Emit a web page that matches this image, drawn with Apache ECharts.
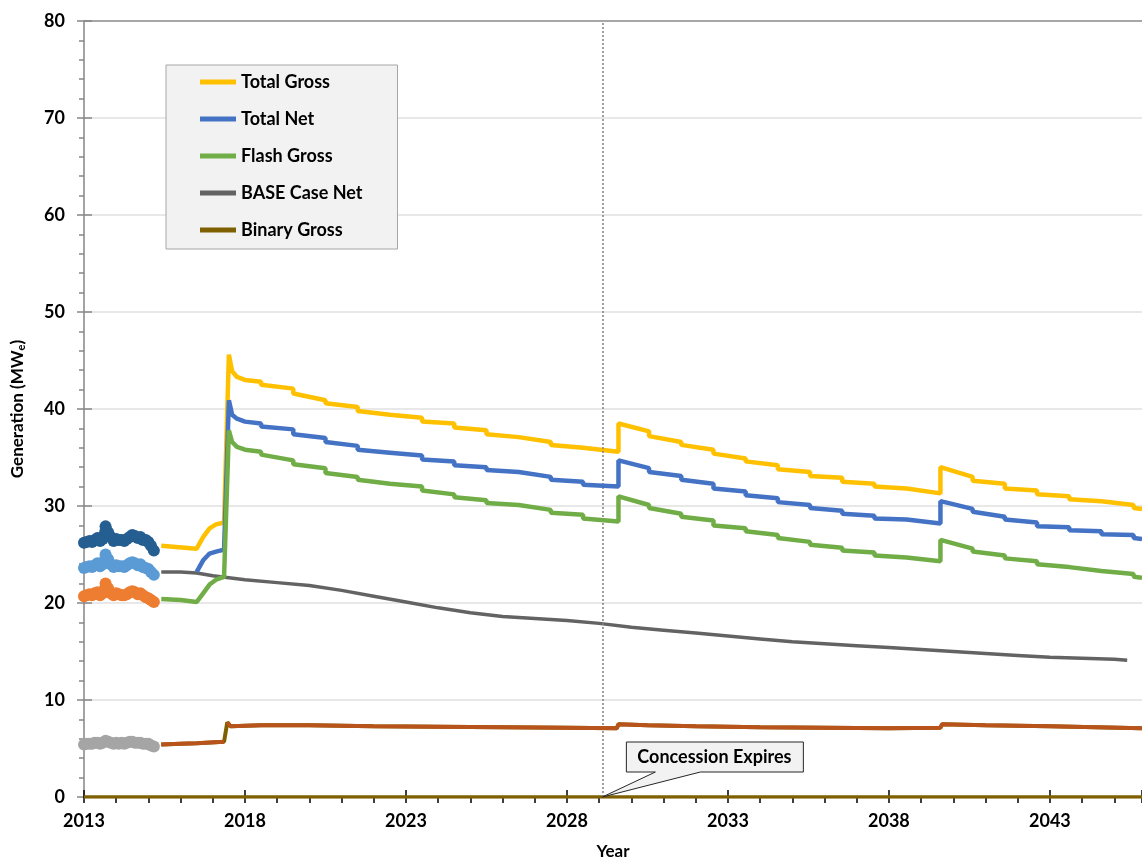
<!DOCTYPE html>
<html>
<head>
<meta charset="utf-8">
<script src="https://cdn.jsdelivr.net/npm/echarts@6/dist/echarts.min.js"></script>
<style>
  html, body { margin: 0; padding: 0; background: #fff; }
  #chart { width: 1142px; height: 861px; }
</style>
</head>
<body>
<div id="chart"></div>
<script>
// Generation forecast (MWe) by year, with monthly history 2013-2015
const BASE_YEAR = 2013;
const X_MAX_YEAR = 2045.86;
const CONCESSION_YEAR = 2029.1;

// Monthly history
const histYears = [2013.00, 2013.08, 2013.17, 2013.25, 2013.33, 2013.42, 2013.50, 2013.58, 2013.67, 2013.75, 2013.83, 2013.92,
                   2014.00, 2014.08, 2014.17, 2014.25, 2014.33, 2014.42, 2014.50, 2014.58, 2014.67, 2014.75, 2014.83, 2014.92,
                   2015.00, 2015.08, 2015.17];
const histGross = [26.2, 26.3, 26.4, 26.3, 26.5, 26.7, 26.4, 26.6, 27.9, 27.3, 26.8, 26.4,
                   26.6, 26.5, 26.5, 26.4, 26.6, 26.8, 27.0, 26.9, 26.7, 26.8, 26.5, 26.5,
                   26.3, 25.9, 25.4];
const histNet   = [23.6, 23.7, 23.8, 23.7, 23.9, 24.1, 23.8, 24.0, 25.0, 24.5, 24.0, 23.7,
                   23.9, 23.8, 23.8, 23.7, 23.9, 24.1, 24.2, 24.1, 23.9, 24.0, 23.7, 23.6,
                   23.5, 23.2, 22.9];
const histFlash = [20.7, 20.8, 20.9, 20.8, 21.0, 21.1, 20.8, 21.0, 22.0, 21.5, 21.0, 20.8,
                   21.0, 20.9, 20.8, 20.8, 20.9, 21.1, 21.2, 21.1, 20.9, 21.0, 20.8, 20.6,
                   20.5, 20.3, 20.1];
const histBinary = [5.4, 5.5, 5.5, 5.5, 5.6, 5.6, 5.5, 5.6, 5.8, 5.7, 5.6, 5.5,
                    5.6, 5.5, 5.6, 5.5, 5.6, 5.7, 5.7, 5.6, 5.6, 5.6, 5.5, 5.5,
                    5.5, 5.3, 5.2];

// Total Gross forecast
const grossYears = [2015.4, 2016.5, 2016.7, 2016.9, 2017.1, 2017.35, 2017.5, 2017.6, 2017.75, 2018.0,
  2018.5, 2018.5, 2019.5, 2019.5, 2020.5, 2020.5, 2021.5, 2021.5, 2022.5, 2022.5, 2023.5, 2023.5,
  2024.5, 2024.5, 2025.5, 2025.5, 2026.5, 2026.5, 2027.5, 2027.5, 2028.5, 2028.5, 2029.6, 2029.6,
  2030.55, 2030.55, 2031.55, 2031.55, 2032.55, 2032.55, 2033.55, 2033.55, 2034.55, 2034.55,
  2035.55, 2035.55, 2036.55, 2036.55, 2037.55, 2037.55, 2038.55, 2038.55, 2039.6, 2039.6,
  2040.6, 2040.6, 2041.6, 2041.6, 2042.6, 2042.6, 2043.6, 2043.6, 2044.6, 2044.6, 2045.6, 2045.6, 2045.86];
const grossValues = [25.9, 25.6, 26.8, 27.7, 28.1, 28.3, 45.6, 43.9, 43.3, 43.0,
  42.8, 42.5, 42.1, 41.6, 40.9, 40.6, 40.2, 39.8, 39.4, 39.3, 39.1, 38.7,
  38.5, 38.1, 37.8, 37.4, 37.1, 36.9, 36.6, 36.3, 36.0, 35.8, 35.6, 38.5,
  37.7, 37.2, 36.6, 36.3, 35.8, 35.4, 34.9, 34.6, 34.2, 33.8,
  33.5, 33.1, 32.9, 32.5, 32.3, 32.0, 31.8, 31.6, 31.3, 34.0,
  33.0, 32.6, 32.3, 31.8, 31.6, 31.2, 31.0, 30.7, 30.5, 30.3, 30.1, 29.8, 29.7];

// Total Net forecast
const netYears = [2016.5, 2016.7, 2016.9, 2017.1, 2017.35, 2017.5, 2017.6, 2017.75, 2018.0,
  2018.5, 2018.5, 2019.5, 2019.5, 2020.5, 2020.5, 2021.5, 2021.5, 2022.5, 2022.5, 2023.5, 2023.5,
  2024.5, 2024.5, 2025.5, 2025.5, 2026.5, 2026.5, 2027.5, 2027.5, 2028.5, 2028.5, 2029.6, 2029.6,
  2030.55, 2030.55, 2031.55, 2031.55, 2032.55, 2032.55, 2033.55, 2033.55, 2034.55, 2034.55,
  2035.55, 2035.55, 2036.55, 2036.55, 2037.55, 2037.55, 2038.55, 2038.55, 2039.6, 2039.6,
  2040.6, 2040.6, 2041.6, 2041.6, 2042.6, 2042.6, 2043.6, 2043.6, 2044.6, 2044.6, 2045.6, 2045.6, 2045.86];
const netValues = [23.2, 24.4, 25.1, 25.3, 25.5, 40.9, 39.4, 39.0, 38.7,
  38.5, 38.2, 37.9, 37.4, 37.0, 36.6, 36.2, 35.8, 35.5, 35.4, 35.2, 34.8,
  34.6, 34.2, 34.0, 33.7, 33.5, 33.3, 33.0, 32.7, 32.5, 32.2, 32.0, 34.7,
  33.9, 33.5, 33.1, 32.7, 32.3, 31.8, 31.5, 31.1, 30.8, 30.4,
  30.1, 29.8, 29.5, 29.2, 29.0, 28.7, 28.6, 28.4, 28.2, 30.5,
  29.7, 29.4, 28.9, 28.6, 28.3, 27.9, 27.8, 27.5, 27.4, 27.1, 27.0, 26.7, 26.6];

// Flash Gross forecast
const flashYears = [2015.4, 2016.0, 2016.5, 2016.7, 2016.9, 2017.1, 2017.35, 2017.5, 2017.6, 2017.75, 2018.0,
  2018.5, 2018.5, 2019.5, 2019.5, 2020.5, 2020.5, 2021.5, 2021.5, 2022.5, 2022.5, 2023.5, 2023.5,
  2024.5, 2024.5, 2025.5, 2025.5, 2026.5, 2026.5, 2027.5, 2027.5, 2028.5, 2028.5, 2029.6, 2029.6,
  2030.55, 2030.55, 2031.55, 2031.55, 2032.55, 2032.55, 2033.55, 2033.55, 2034.55, 2034.55,
  2035.55, 2035.55, 2036.55, 2036.55, 2037.55, 2037.55, 2038.55, 2038.55, 2039.6, 2039.6,
  2040.6, 2040.6, 2041.6, 2041.6, 2042.6, 2042.6, 2043.6, 2043.6, 2044.6, 2044.6, 2045.6, 2045.6, 2045.86];
const flashValues = [20.4, 20.3, 20.1, 21.0, 21.9, 22.4, 22.7, 37.8, 36.6, 36.1, 35.8,
  35.6, 35.3, 34.7, 34.3, 33.9, 33.4, 33.0, 32.7, 32.3, 32.2, 32.0, 31.6,
  31.2, 30.9, 30.6, 30.3, 30.1, 29.9, 29.6, 29.3, 29.1, 28.7, 28.4, 31.0,
  30.1, 29.8, 29.2, 28.9, 28.5, 28.0, 27.7, 27.4, 27.0, 26.7,
  26.3, 26.0, 25.7, 25.4, 25.2, 24.9, 24.7, 24.5, 24.3, 26.5,
  25.6, 25.3, 24.9, 24.6, 24.3, 24.0, 23.7, 23.6, 23.3, 23.1, 23.0, 22.7, 22.6];

// BASE case net
const baseYears = [2015.4, 2016.0, 2016.5, 2017.0, 2017.5, 2018.0, 2019.0, 2020.0, 2021.0, 2022.0, 2023.0,
  2024.0, 2025.0, 2026.0, 2027.0, 2028.0, 2029.0, 2030.0, 2031.0, 2032.0, 2033.0, 2034.0, 2035.0,
  2036.0, 2037.0, 2038.0, 2039.0, 2040.0, 2041.0, 2042.0, 2043.0, 2044.0, 2045.0, 2045.4];
const baseValues = [23.2, 23.2, 23.1, 22.8, 22.6, 22.4, 22.1, 21.8, 21.3, 20.7, 20.1,
  19.5, 19.0, 18.6, 18.4, 18.2, 17.9, 17.5, 17.2, 16.9, 16.6, 16.3, 16.0,
  15.8, 15.6, 15.4, 15.2, 15.0, 14.8, 14.6, 14.4, 14.3, 14.2, 14.1];

// Binary gross
const binaryYears = [2015.4, 2016.0, 2016.5, 2017.35, 2017.45, 2017.55, 2018.5, 2020.0, 2022.0, 2024.0, 2026.0,
  2028.0, 2029.55, 2029.6, 2030.5, 2032.0, 2034.0, 2036.0, 2038.0, 2039.6, 2039.65, 2041.0, 2043.0, 2045.86];
const binaryValues = [5.4, 5.5, 5.55, 5.7, 7.7, 7.3, 7.4, 7.4, 7.3, 7.25, 7.2,
  7.15, 7.1, 7.5, 7.4, 7.3, 7.2, 7.15, 7.1, 7.15, 7.5, 7.4, 7.3, 7.1];

// Zero baseline
const zeroYears = [2013.0, 2045.86];
const zeroValues = [0, 0];

const pts = (years, vals) => years.map((y, i) => [y - BASE_YEAR, vals[i]]);

// Break a line where it jumps almost vertically
function breakJumps(data) {
  const out = [];
  for (let i = 0; i < data.length; i++) {
    if (i > 0) {
      const dx = data[i][0] - data[i - 1][0];
      const dy = Math.abs(data[i][1] - data[i - 1][1]);
      if (dx > 0 && dy / dx > 10) out.push([null, null]);
    }
    out.push(data[i]);
  }
  return out;
}

const FONT = 'Lato, "Open Sans", sans-serif';
const labelStyle = { fontFamily: FONT, fontWeight: 'bold', fontSize: 18, color: '#000' };

function historySeries(name, years, vals, color) {
  return {
    name: name, type: 'line', data: pts(years, vals),
    symbol: 'circle', symbolSize: 12, showSymbol: true,
    lineStyle: { color: color, width: 10, cap: 'round', join: 'round' },
    itemStyle: { color: color }, z: 7
  };
}

const chart = echarts.init(document.getElementById('chart'), null, { renderer: 'canvas' });

const binaryData = pts(binaryYears, binaryValues);

const option = {
  animation: false,
  backgroundColor: '#fff',
  grid: { left: 84, right: 0, top: 21, bottom: 64, containLabel: false, outerBoundsMode: 'none' },
  legend: {
    orient: 'vertical',
    left: 166, top: 65,
    backgroundColor: '#f2f2f2',
    borderColor: '#a6a6a6', borderWidth: 1,
    padding: [7, 35, 9, 34],
    icon: 'rect',
    itemWidth: 36, itemHeight: 5, itemGap: 17,
    textStyle: Object.assign({ lineHeight: 20 }, labelStyle),
    data: ['Total Gross', 'Total Net', 'Flash Gross', 'BASE Case Net', 'Binary Gross']
  },
  xAxis: [{
    type: 'value', min: 0, max: X_MAX_YEAR - BASE_YEAR, interval: 5,
    name: 'Year', nameLocation: 'middle', nameGap: 46,
    nameTextStyle: { fontFamily: FONT, fontWeight: 'bold', fontSize: 17, color: '#000' },
    axisLine: { show: false },
    axisTick: { show: true, length: 6, lineStyle: { color: '#000', width: 1.5 } },
    minorTick: { show: true, splitNumber: 5, length: 6, lineStyle: { color: '#000', width: 1.5 } },
    axisLabel: Object.assign({ margin: 15, showMaxLabel: false, formatter: v => String(v + BASE_YEAR) }, labelStyle),
    splitLine: { show: false }
  }, {
    type: 'value', min: 0, max: X_MAX_YEAR - BASE_YEAR, interval: 5, position: 'bottom',
    axisLine: { show: false },
    axisTick: { show: true, inside: true, length: 7, lineStyle: { color: '#000', width: 1.5 } },
    axisLabel: { show: false }, splitLine: { show: false }
  }],
  yAxis: [{
    type: 'value', min: 0, max: 80, interval: 10,
    name: '{a|Generation (MW}{s|e}{a|)}', nameLocation: 'middle', nameGap: 57,
    nameTextStyle: {
      rich: {
        a: { fontFamily: FONT, fontWeight: 'bold', fontSize: 17, color: '#000' },
        s: { fontFamily: FONT, fontWeight: 'bold', fontSize: 11, color: '#000', padding: [8, 0, 0, 0] }
      }
    },
    axisLine: { show: true, lineStyle: { color: '#868686', width: 1.5 } },
    axisTick: { show: true, length: 7, lineStyle: { color: '#868686', width: 1.5 } },
    minorTick: { show: true, splitNumber: 5, length: 5, lineStyle: { color: '#868686', width: 1.5 } },
    axisLabel: Object.assign({ margin: 19 }, labelStyle),
    splitLine: { show: true, lineStyle: { color: ['#e0e0e0', '#e0e0e0', '#e0e0e0', '#e0e0e0', '#e0e0e0', '#e0e0e0', '#e0e0e0', '#e0e0e0', '#8a8a8a'], width: 1.5 } }
  }, {
    type: 'value', min: 0, max: 80, interval: 10, position: 'left',
    axisLine: { show: false },
    axisTick: { show: true, inside: true, length: 8, lineStyle: { color: '#868686', width: 1.5 } },
    axisLabel: { show: false }, splitLine: { show: false }
  }],
  series: [
    {
      name: 'zero', type: 'line', data: pts(zeroYears, zeroValues), symbol: 'none',
      lineStyle: { color: '#7f6000', width: 3.5 }, itemStyle: { color: '#7f6000' }, z: 3,
      markLine: {
        silent: true, symbol: 'none', label: { show: false },
        lineStyle: { color: '#7f7f7f', width: 1.5, type: [2, 2] },
        data: [{ xAxis: CONCESSION_YEAR - BASE_YEAR }]
      }
    },
    {
      name: 'Total Gross', type: 'line', data: pts(grossYears, grossValues), symbol: 'none',
      lineStyle: { color: '#ffc000', width: 4.5 }, itemStyle: { color: '#ffc000' }, z: 4
    },
    {
      name: 'Total Net', type: 'line', data: pts(netYears, netValues), symbol: 'none',
      lineStyle: { color: '#4472c4', width: 4.5 }, itemStyle: { color: '#4472c4' }, z: 5
    },
    {
      name: 'Flash Gross', type: 'line', data: pts(flashYears, flashValues), symbol: 'none',
      lineStyle: { color: '#70ad47', width: 4.5 }, itemStyle: { color: '#70ad47' }, z: 6
    },
    {
      name: 'BASE Case Net', type: 'line', data: pts(baseYears, baseValues), symbol: 'none',
      lineStyle: { color: '#636363', width: 3.5 }, itemStyle: { color: '#636363' }, z: 4
    },
    {
      name: 'Binary Gross', type: 'line', data: binaryData, symbol: 'none',
      lineStyle: { color: '#7f6000', width: 4 }, itemStyle: { color: '#7f6000' }, z: 4
    },
    {
      name: 'Binary Gross markers', type: 'line', data: breakJumps(binaryData), symbol: 'none',
      connectNulls: false,
      lineStyle: { color: '#b8541b', width: 4 }, itemStyle: { color: '#b8541b' }, z: 5
    },
    historySeries('Historic Gross', histYears, histGross, '#255e91'),
    historySeries('Historic Net', histYears, histNet, '#5b9bd5'),
    historySeries('Historic Flash', histYears, histFlash, '#ed7d31'),
    historySeries('Historic Binary', histYears, histBinary, '#a5a5a5')
  ]
};

chart.setOption(option);

// Callout pointing at the concession expiry on the time axis
const tip = chart.convertToPixel({ xAxisIndex: 0, yAxisIndex: 0 }, [CONCESSION_YEAR - BASE_YEAR, 0]);
const tx = tip[0], ty = tip[1];
chart.setOption({
  graphic: [{
    type: 'polygon', z: 100,
    shape: {
      points: [
        [tx + 24, ty - 55], [tx + 201, ty - 55], [tx + 201, ty - 25],
        [tx + 98, ty - 25], [tx, ty], [tx + 53, ty - 25], [tx + 24, ty - 25]
      ]
    },
    style: { fill: '#f2f2f2', stroke: '#262626', lineWidth: 1 }
  }, {
    type: 'text', z: 101,
    x: tx + 112, y: ty - 40,
    style: {
      text: 'Concession Expires', fill: '#000',
      font: 'bold 18px ' + FONT, align: 'center', verticalAlign: 'middle'
    }
  }]
});
</script>
</body>
</html>
